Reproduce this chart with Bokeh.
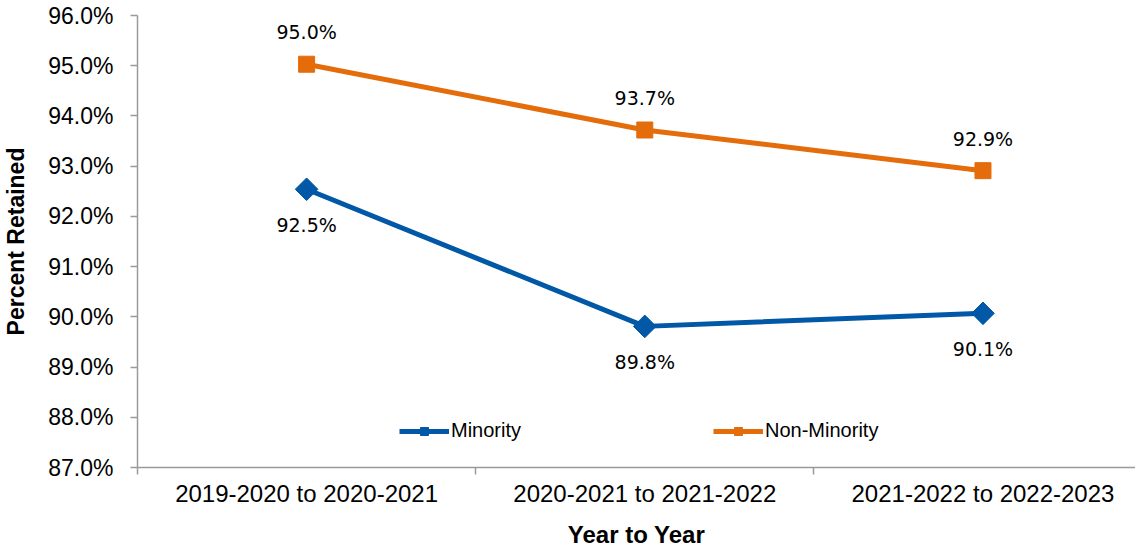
import math
from bokeh.plotting import figure
from bokeh.models import (Range1d, FixedTicker, PrintfTickFormatter, ColumnDataSource,
                          Legend, LegendItem)
from bokeh.core.properties import value
from bokeh.embed import file_html
from bokeh.resources import INLINE

categories = ["2019-2020 to 2020-2021", "2020-2021 to 2021-2022", "2021-2022 to 2022-2023"]
minority = [92.54, 89.81, 90.07]
non_minority = [95.03, 93.72, 92.91]
y_ticks = [87, 88, 89, 90, 91, 92, 93, 94, 95, 96]

BLUE = "#0058A6"
ORANGE = "#E46C0A"
AXIS_FONT = "Liberation Sans"

xs = [i + 0.5 for i in range(len(categories))]

p = figure(width=1135, height=550, output_backend="svg", toolbar_location=None,
           x_range=Range1d(0, 2.951), y_range=Range1d(87, 96),
           min_border_left=136, min_border_top=15, min_border_bottom=77, min_border_right=0)
p.outline_line_color = None
p.xgrid.visible = False
p.ygrid.visible = False
p.background_fill_color = "white"

# y axis
ya = p.yaxis[0]
ya.ticker = FixedTicker(ticks=y_ticks, minor_ticks=[])
ya.formatter = PrintfTickFormatter(format="%.1f%%")
ya.axis_line_color = "#9A9A9A"
ya.axis_line_width = 1.5
ya.major_tick_line_color = "#9A9A9A"
ya.major_tick_line_width = 1.5
ya.major_tick_out = 7
ya.major_tick_in = 0
ya.minor_tick_line_color = None
ya.major_label_text_font = AXIS_FONT
ya.major_label_text_font_size = "23px"
ya.major_label_text_color = "black"
ya.major_label_standoff = 17
ya.axis_label = "Percent Retained"
ya.axis_label_text_font = AXIS_FONT
ya.axis_label_text_font_style = "bold"
ya.axis_label_text_font_size = "23px"
ya.axis_label_text_color = "black"
ya.axis_label_standoff = 16

# x axis
xa = p.xaxis[0]
xa.ticker = FixedTicker(ticks=xs, minor_ticks=[0, 1, 2, 3])
xa.major_label_overrides = {x: c for x, c in zip(xs, categories)}
xa.axis_line_color = "#9A9A9A"
xa.axis_line_width = 1.5
xa.major_tick_line_color = None
xa.major_tick_out = 0
xa.major_tick_in = 0
xa.minor_tick_line_color = "#9A9A9A"
xa.minor_tick_line_width = 1.5
xa.minor_tick_out = 7
xa.minor_tick_in = 0
xa.major_label_text_font = AXIS_FONT
xa.major_label_text_font_size = "24px"
xa.major_label_text_color = "black"
xa.major_label_standoff = 5
xa.axis_label = "Year to Year"
xa.axis_label_text_font = AXIS_FONT
xa.axis_label_text_font_style = "bold"
xa.axis_label_text_font_size = "24px"
xa.axis_label_text_color = "black"
xa.axis_label_standoff = 11

src_m = ColumnDataSource(dict(x=xs, y=minority, t=["%.1f%%" % v for v in minority]))
src_n = ColumnDataSource(dict(x=xs, y=non_minority, t=["%.1f%%" % v for v in non_minority]))

lm = p.line("x", "y", source=src_m, line_color=BLUE, line_width=5)
sm = p.scatter("x", "y", source=src_m, marker="square", angle=math.pi / 4, size=16,
               fill_color=BLUE, line_color=BLUE)
ln = p.line("x", "y", source=src_n, line_color=ORANGE, line_width=5)
sn = p.scatter("x", "y", source=src_n, marker="square", size=16, fill_color=ORANGE, line_color=ORANGE)

p.text("x", "y", text="t", source=src_m, y_offset=36, text_align="center", text_baseline="middle",
       text_font=value("DejaVu Sans"), text_font_size="19px", text_color="black")
p.text("x", "y", text="t", source=src_n, y_offset=-32, text_align="center", text_baseline="middle",
       text_font=value("DejaVu Sans"), text_font_size="19px", text_color="black")

legend = Legend(items=[LegendItem(label="Minority", renderers=[lm, sm]),
                       LegendItem(label="Non-Minority", renderers=[ln, sn])],
                orientation="horizontal", location=(262, 25),
                glyph_width=50, glyph_height=20, label_standoff=2, spacing=192,
                padding=0, margin=0, border_line_color=None, background_fill_alpha=0,
                label_text_font=AXIS_FONT, label_text_font_size="20px", label_text_color="black")
p.add_layout(legend, "center")

open("out.html", "w").write(file_html(p, INLINE))
